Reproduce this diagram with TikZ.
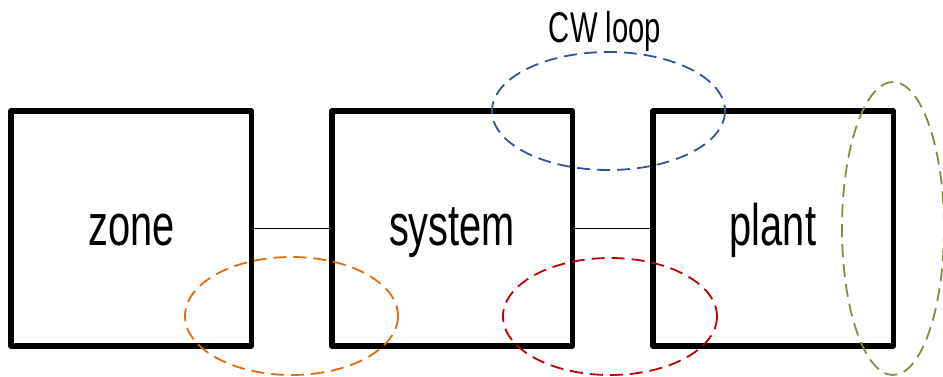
\documentclass[tikz,border=0pt]{standalone}
\usepackage{fontspec}
\setmainfont{Liberation Sans}[FakeStretch=0.68]
\begin{document}
\begin{tikzpicture}[x=1pt,y=-1pt,
  block/.style={draw=black, line width=5.5pt, line join=round, minimum width=240.5pt,
    minimum height=235pt, inner sep=0pt, text height=33pt, text depth=0pt,
    font=\fontsize{58.5}{58.5}\selectfont},
  link/.style={draw=black, line width=1.5pt},
  loop/.style={line width=1.8pt, dash pattern=on 13pt off 7pt}]
\useasboundingbox (0,0) rectangle (943,376);
\definecolor{cwblue}{HTML}{2F5597}
\definecolor{zorange}{HTML}{E46C0A}
\definecolor{sred}{HTML}{C00000}
\definecolor{pgreen}{HTML}{77933C}

% the three stages and their links
\node[block] (zone) at (131.25,228.5) {zone};
\node[block] (system) at (452,228.5) {system};
\node[block] (plant) at (773,228.5) {plant};
\draw[link] (zone.east) -- (system.west);
\draw[link] (system.east) -- (plant.west);

% loop caption
\node[font=\fontsize{43}{43}\selectfont, anchor=base, inner sep=0pt] (cw) at (605,42) {CW loop};

% dashed loop outlines
\draw[loop, cwblue] (608.5,111) ellipse [x radius=116.5, y radius=59];
\draw[loop, zorange] (291.5,316) ellipse [x radius=106.5, y radius=59];
\draw[loop, sred] (610,316.5) ellipse [x radius=107, y radius=58.5];
\draw[loop, pgreen] (893,228.5) ellipse [x radius=51, y radius=146.5];
\end{tikzpicture}
\end{document}
